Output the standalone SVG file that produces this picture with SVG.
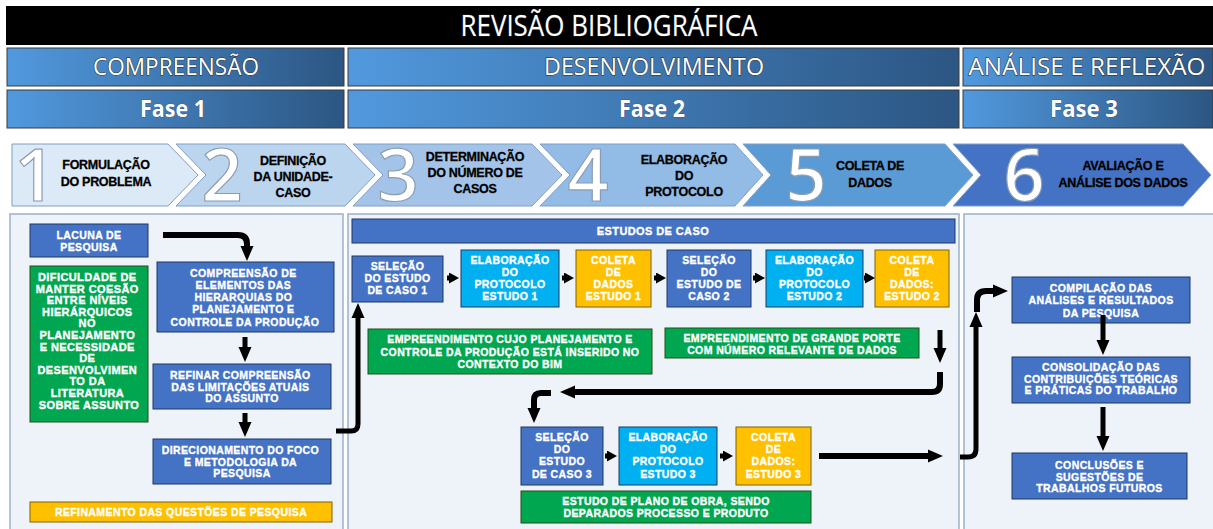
<svg xmlns="http://www.w3.org/2000/svg" width="1213" height="529" viewBox="0 0 1213 529">
<defs>
<linearGradient id="bar" x1="0" y1="0" x2="1" y2="0">
<stop offset="0" stop-color="#5199de"/>
<stop offset="1" stop-color="#2c5683"/>
</linearGradient>
<marker id="ah" markerUnits="userSpaceOnUse" markerWidth="15" markerHeight="15" viewBox="0 0 15 15" refX="5" refY="7.5" orient="auto">
<path d="M0,1 L15,7.5 L0,14 z" fill="#000"/>
</marker>
<marker id="sm" markerUnits="userSpaceOnUse" markerWidth="10" markerHeight="11" viewBox="0 0 10 11" refX="3" refY="5.5" orient="auto">
<path d="M0,0 L10,5.5 L0,11 z" fill="#000"/>
</marker>
<style>
.hd{font-family:"Open Sans","DejaVu Sans",sans-serif;fill:#fff;stroke:#2a2a2a;stroke-width:1;paint-order:stroke;text-anchor:middle}
.fase{font-family:"Open Sans","DejaVu Sans",sans-serif;font-weight:bold;fill:#fff;text-anchor:middle;stroke:#2a4060;stroke-width:0.6;paint-order:stroke}
.barr{fill:url(#bar);stroke:#3b3b3b;stroke-width:1}
.chev{stroke:#7f9fc6;stroke-width:1}
.dig{font-family:"Open Sans","DejaVu Sans",sans-serif;font-weight:600;font-size:72px;fill:#fff;stroke:#8c9db3;stroke-width:1.2;text-anchor:middle}
.ct{font-family:"Liberation Sans",Arial,sans-serif;font-weight:bold;font-size:12.5px;fill:#000;stroke:#000;stroke-width:0.3;text-anchor:middle;letter-spacing:-0.3px}
.panel{fill:#eef3fa;stroke:#9db1c7;stroke-width:1.5}
.db{fill:#4472c4;stroke:#1f3864;stroke-width:1}
.lb{fill:#00b0f0;stroke:#1f3864;stroke-width:1}
.ob{fill:#ffc000;stroke:#7f6000;stroke-width:1}
.gb{fill:#00a650;stroke:#274e13;stroke-width:1}
.t{font-family:"Liberation Sans",Arial,sans-serif;font-weight:bold;font-size:10.5px;fill:#fff;stroke:#fff;stroke-width:0.35;text-anchor:middle;letter-spacing:0.4px}
.cn{fill:none;stroke:#000;stroke-width:6}
.cs{fill:none;stroke:#000;stroke-width:5}
</style>
</defs>
<rect width="1213" height="529" fill="#fff"/>

<g id="header">
<rect x="6" y="6" width="1207" height="39" fill="#000"/>
<text x="609" y="36" class="hd" style="font-size:30px;stroke:#555;stroke-width:0.6" textLength="297" lengthAdjust="spacingAndGlyphs">REVISÃO BIBLIOGRÁFICA</text>
</g>

<g id="bar-compreensao">
<rect x="7" y="48" width="337" height="38" class="barr"/>
<text x="176" y="75" class="hd" style="font-size:23px" textLength="166" lengthAdjust="spacingAndGlyphs">COMPREENSÃO</text>
</g>
<g id="bar-desenvolvimento">
<rect x="348" y="48" width="611" height="38" class="barr"/>
<text x="654" y="75" class="hd" style="font-size:23px" textLength="220" lengthAdjust="spacingAndGlyphs">DESENVOLVIMENTO</text>
</g>
<g id="bar-analise">
<rect x="963" y="48" width="250" height="38" class="barr"/>
<text x="1087" y="75" class="hd" style="font-size:23px" textLength="237" lengthAdjust="spacingAndGlyphs">ANÁLISE E REFLEXÃO</text>
</g>
<g id="fase1">
<rect x="7" y="90" width="337" height="38" class="barr"/>
<text x="173" y="117" class="fase" style="font-size:23px" textLength="66" lengthAdjust="spacingAndGlyphs">Fase 1</text>
</g>
<g id="fase2">
<rect x="348" y="90" width="611" height="38" class="barr"/>
<text x="652" y="117" class="fase" style="font-size:23px" textLength="66" lengthAdjust="spacingAndGlyphs">Fase 2</text>
</g>
<g id="fase3">
<rect x="963" y="90" width="250" height="38" class="barr"/>
<text x="1084" y="117" class="fase" style="font-size:23px" textLength="68" lengthAdjust="spacingAndGlyphs">Fase 3</text>
</g>

<g id="step1">
<path d="M12,144 H168 L198,175 L168,206 H12 z" class="chev" fill="#dce9f6"/>
<text x="35" y="201" class="dig">1</text>
<text x="106" y="169" class="ct">FORMULAÇÃO</text>
<text x="106" y="186" class="ct">DO PROBLEMA</text>
</g>
<g id="step2">
<path d="M176,144 H345 L375,175 L345,206 H176 L206,175 z" class="chev" fill="#bcd5ee"/>
<text x="222" y="201" class="dig">2</text>
<text x="293" y="165" class="ct">DEFINIÇÃO</text>
<text x="293" y="181" class="ct">DA UNIDADE-</text>
<text x="293" y="197" class="ct">CASO</text>
</g>
<g id="step3">
<path d="M353,144 H532 L562,175 L532,206 H353 L383,175 z" class="chev" fill="#a3c4e8"/>
<text x="398" y="201" class="dig">3</text>
<text x="475" y="161" class="ct">DETERMINAÇÃO</text>
<text x="475" y="177" class="ct">DO NÚMERO DE</text>
<text x="475" y="193" class="ct">CASOS</text>
</g>
<g id="step4">
<path d="M540,144 H735 L763,175 L735,206 H540 L570,175 z" class="chev" fill="#92bbe6"/>
<text x="588" y="201" class="dig">4</text>
<text x="684" y="164" class="ct">ELABORAÇÃO</text>
<text x="684" y="180" class="ct">DO</text>
<text x="684" y="196" class="ct">PROTOCOLO</text>
</g>
<g id="step5">
<path d="M743,144 H945 L973,175 L945,206 H743 L771,175 z" class="chev" fill="#5b9bd5"/>
<text x="806" y="201" class="dig">5</text>
<text x="870" y="170" class="ct">COLETA DE</text>
<text x="870" y="187" class="ct">DADOS</text>
</g>
<g id="step6">
<path d="M953,144 H1183 L1211,175 L1183,206 H953 L981,175 z" class="chev" fill="#4472c4"/>
<text x="1024" y="201" class="dig">6</text>
<text x="1123" y="170" class="ct">AVALIAÇÃO E</text>
<text x="1123" y="187" class="ct">ANÁLISE DOS DADOS</text>
</g>

<g id="panels">
<rect x="10" y="214" width="333" height="322" class="panel"/>
<rect x="348" y="214" width="611" height="322" class="panel"/>
<rect x="964" y="214" width="256" height="322" class="panel"/>
</g>

<g id="lacuna">
<rect x="30" y="224" width="118" height="33" class="db"/>
<text x="89" y="239" class="t">LACUNA DE</text>
<text x="89" y="251" class="t">PESQUISA</text>
</g>
<g id="dificuldade">
<rect x="30" y="266" width="118" height="156" class="gb"/>
<text class="t" style="font-size:11px">
<tspan x="89" y="281">DIFICULDADE DE</tspan>
<tspan x="89" y="292.6">MANTER COESÃO</tspan>
<tspan x="89" y="304.2">ENTRE NÍVEIS</tspan>
<tspan x="89" y="315.8">HIERÁRQUICOS</tspan>
<tspan x="89" y="327.4">NO</tspan>
<tspan x="89" y="339">PLANEJAMENTO</tspan>
<tspan x="89" y="350.6">E NECESSIDADE</tspan>
<tspan x="89" y="362.2">DE</tspan>
<tspan x="89" y="373.8">DESENVOLVIMEN</tspan>
<tspan x="89" y="385.4">TO DA</tspan>
<tspan x="89" y="397">LITERATURA</tspan>
<tspan x="89" y="408.6">SOBRE ASSUNTO</tspan>
</text>
</g>
<g id="compreensao-elementos">
<rect x="157" y="262" width="177" height="70" class="db"/>
<text class="t">
<tspan x="245" y="276.5">COMPREENSÃO DE</tspan>
<tspan x="245" y="288.8">ELEMENTOS DAS</tspan>
<tspan x="245" y="301">HIERARQUIAS DO</tspan>
<tspan x="245" y="313.2">PLANEJAMENTO E</tspan>
<tspan x="245" y="325.5">CONTROLE DA PRODUÇÃO</tspan>
</text>
</g>
<g id="refinar">
<rect x="153" y="364" width="178" height="45" class="db"/>
<text class="t">
<tspan x="242" y="379">REFINAR COMPREENSÃO</tspan>
<tspan x="242" y="390.7">DAS LIMITAÇÕES ATUAIS</tspan>
<tspan x="242" y="402.3">DO ASSUNTO</tspan>
</text>
</g>
<g id="direcionamento">
<rect x="153" y="439" width="178" height="45" class="db"/>
<text class="t">
<tspan x="242" y="454">DIRECIONAMENTO DO FOCO</tspan>
<tspan x="242" y="465.7">E METODOLOGIA DA</tspan>
<tspan x="242" y="477.3">PESQUISA</tspan>
</text>
</g>
<g id="refinamento">
<rect x="30" y="502" width="302" height="20" class="ob"/>
<text x="181" y="515.5" class="t">REFINAMENTO DAS QUESTÕES DE PESQUISA</text>
</g>

<g id="estudos-de-caso">
<rect x="352" y="219" width="603" height="24" class="db"/>
<text x="653" y="235" class="t" style="font-size:11px">ESTUDOS DE CASO</text>
</g>
<g id="selecao1">
<rect x="352" y="256" width="91" height="46" class="db"/>
<text class="t"><tspan x="397.5" y="270">SELEÇÃO</tspan><tspan x="397.5" y="282">DO ESTUDO</tspan><tspan x="397.5" y="294">DE CASO 1</tspan></text>
</g>
<g id="elaboracao1">
<rect x="461" y="250" width="98" height="57" class="lb"/>
<text class="t"><tspan x="510" y="264">ELABORAÇÃO</tspan><tspan x="510" y="276">DO</tspan><tspan x="510" y="288">PROTOCOLO</tspan><tspan x="510" y="300">ESTUDO 1</tspan></text>
</g>
<g id="coleta1">
<rect x="576" y="250" width="75" height="57" class="ob"/>
<text class="t"><tspan x="613.5" y="264">COLETA</tspan><tspan x="613.5" y="276">DE</tspan><tspan x="613.5" y="288">DADOS</tspan><tspan x="613.5" y="300">ESTUDO 1</tspan></text>
</g>
<g id="selecao2">
<rect x="667" y="250" width="84" height="57" class="db"/>
<text class="t"><tspan x="709" y="264">SELEÇÃO</tspan><tspan x="709" y="276">DO</tspan><tspan x="709" y="288">ESTUDO DE</tspan><tspan x="709" y="300">CASO 2</tspan></text>
</g>
<g id="elaboracao2">
<rect x="766" y="250" width="97" height="57" class="lb"/>
<text class="t"><tspan x="814.5" y="264">ELABORAÇÃO</tspan><tspan x="814.5" y="276">DO</tspan><tspan x="814.5" y="288">PROTOCOLO</tspan><tspan x="814.5" y="300">ESTUDO 2</tspan></text>
</g>
<g id="coleta2">
<rect x="875" y="250" width="74" height="57" class="ob"/>
<text class="t"><tspan x="912" y="264">COLETA</tspan><tspan x="912" y="276">DE</tspan><tspan x="912" y="288">DADOS:</tspan><tspan x="912" y="300">ESTUDO 2</tspan></text>
</g>
<g id="empreendimento-bim">
<rect x="368" y="329" width="284" height="45" class="gb"/>
<text class="t"><tspan x="510" y="343">EMPREENDIMENTO CUJO PLANEJAMENTO E</tspan><tspan x="510" y="355.5">CONTROLE DA PRODUÇÃO ESTÁ INSERIDO NO</tspan><tspan x="510" y="368">CONTEXTO DO BIM</tspan></text>
</g>
<g id="empreendimento-grande">
<rect x="665" y="328" width="254" height="30" class="gb"/>
<text class="t"><tspan x="792" y="342">EMPREENDIMENTO DE GRANDE PORTE</tspan><tspan x="792" y="354">COM NÚMERO RELEVANTE DE DADOS</tspan></text>
</g>
<g id="selecao3">
<rect x="521" y="427" width="82" height="58" class="db"/>
<text class="t"><tspan x="562" y="441">SELEÇÃO</tspan><tspan x="562" y="453">DO</tspan><tspan x="562" y="465">ESTUDO</tspan><tspan x="562" y="478">DE CASO 3</tspan></text>
</g>
<g id="elaboracao3">
<rect x="619" y="427" width="98" height="58" class="lb"/>
<text class="t"><tspan x="668" y="441">ELABORAÇÃO</tspan><tspan x="668" y="453">DO</tspan><tspan x="668" y="465">PROTOCOLO</tspan><tspan x="668" y="478">ESTUDO 3</tspan></text>
</g>
<g id="coleta3">
<rect x="736" y="427" width="75" height="58" class="ob"/>
<text class="t"><tspan x="773.5" y="441">COLETA</tspan><tspan x="773.5" y="453">DE</tspan><tspan x="773.5" y="465">DADOS:</tspan><tspan x="773.5" y="478">ESTUDO 3</tspan></text>
</g>
<g id="estudo-plano">
<rect x="521" y="491" width="290" height="32" class="gb"/>
<text class="t"><tspan x="666" y="505">ESTUDO DE PLANO DE OBRA, SENDO</tspan><tspan x="666" y="517">DEPARADOS PROCESSO E PRODUTO</tspan></text>
</g>

<g id="compilacao">
<rect x="1012" y="277" width="178" height="46" class="db"/>
<text class="t"><tspan x="1101" y="292">COMPILAÇÃO DAS</tspan><tspan x="1101" y="304">ANÁLISES E RESULTADOS</tspan><tspan x="1101" y="317">DA PESQUISA</tspan></text>
</g>
<g id="consolidacao">
<rect x="1012" y="357" width="178" height="46" class="db"/>
<text class="t"><tspan x="1101" y="371">CONSOLIDAÇÃO DAS</tspan><tspan x="1101" y="382.5">CONTRIBUIÇÕES TEÓRICAS</tspan><tspan x="1101" y="394">E PRÁTICAS DO TRABALHO</tspan></text>
</g>
<g id="conclusoes">
<rect x="1012" y="453" width="175" height="46" class="db"/>
<text class="t"><tspan x="1099.5" y="469">CONCLUSÕES E</tspan><tspan x="1099.5" y="481">SUGESTÕES DE</tspan><tspan x="1099.5" y="492">TRABALHOS FUTUROS</tspan></text>
</g>

<g id="connectors">
<path d="M163,235 H238 Q247,235 247,244 V251" class="cn" marker-end="url(#ah)"/>
<path d="M245,337 V352" class="cs" marker-end="url(#ah)"/>
<path d="M245,413 V427" class="cs" marker-end="url(#ah)"/>
<path d="M336,431 H351 Q358,431 358,424 V313" class="cs" marker-end="url(#ah)"/>
<path d="M447,278 H452" class="cs" marker-end="url(#sm)"/>
<path d="M562,278 H567" class="cs" marker-end="url(#sm)"/>
<path d="M654,278 H659" class="cs" marker-end="url(#sm)"/>
<path d="M753,278 H758" class="cs" marker-end="url(#sm)"/>
<path d="M864,278 H868" class="cs" marker-end="url(#sm)"/>
<path d="M940,330 V353" class="cs" marker-end="url(#ah)"/>
<path d="M940,372 V384 Q940,392 932,392 H570" class="cn" marker-end="url(#ah)"/>
<path d="M551,393 H541 Q534,393 534,400 V413" class="cn" marker-end="url(#ah)"/>
<path d="M605,456 H610" class="cs" marker-end="url(#sm)"/>
<path d="M720,456 H726" class="cs" marker-end="url(#sm)"/>
<path d="M819,456 H933" class="cn" marker-end="url(#ah)"/>
<path d="M960,457 H968 Q976,457 976,449 V322" class="cs" marker-end="url(#ah)"/>
<path d="M977,312 V300 Q977,291 986,291 H998" class="cn" marker-end="url(#ah)"/>
<path d="M1103,315 V345" class="cs" marker-end="url(#ah)"/>
<path d="M1103,407 V441" class="cs" marker-end="url(#ah)"/>
</g>
</svg>
